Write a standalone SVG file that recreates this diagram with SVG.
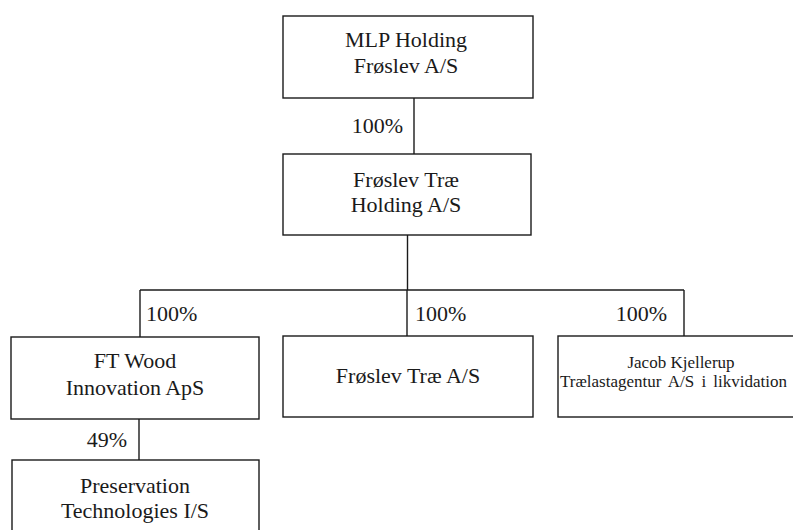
<svg xmlns="http://www.w3.org/2000/svg" width="793" height="530" viewBox="0 0 793 530">
<style>
.box{fill:#fff;stroke:#1a1a1a;stroke-width:1.4}
.ln{stroke:#1a1a1a;stroke-width:1.4;fill:none}
text{font-family:'Liberation Serif','DejaVu Serif',serif;fill:#1a1a1a}
.t{font-size:22px;text-anchor:middle}
.s{font-size:17px;text-anchor:middle}
.s2{font-size:17px;text-anchor:start;word-spacing:3px}
.p{font-size:22px}
.pe{font-size:22px;text-anchor:end}
</style>
<rect width="793" height="530" fill="#fff"/>
<g id="connectors">
<line class="ln" x1="414" y1="98" x2="414" y2="154"/>
<line class="ln" x1="407.5" y1="235" x2="407.5" y2="290"/>
<line class="ln" x1="140" y1="290" x2="684" y2="290"/>
<line class="ln" x1="140" y1="290" x2="140" y2="337"/>
<line class="ln" x1="407" y1="290" x2="407" y2="336"/>
<line class="ln" x1="684" y1="290" x2="684" y2="336"/>
<line class="ln" x1="139" y1="419" x2="139" y2="460"/>
<text class="pe" x="403" y="133">100%</text>
<text class="p" x="146" y="321">100%</text>
<text class="p" x="415" y="321">100%</text>
<text class="pe" x="667" y="321">100%</text>
<text class="pe" x="127" y="447">49%</text>
</g>
<g id="mlp-holding">
<rect class="box" x="283" y="16" width="250" height="82"/>
<text class="t" x="406" y="47">MLP Holding</text>
<text class="t" x="406" y="73">Frøslev A/S</text>
</g>
<g id="froslev-trae-holding">
<rect class="box" x="283" y="154" width="248" height="81"/>
<text class="t" x="406" y="187">Frøslev Træ</text>
<text class="t" x="406" y="212">Holding A/S</text>
</g>
<g id="ft-wood">
<rect class="box" x="11" y="337" width="248" height="82"/>
<text class="t" x="135" y="368">FT Wood</text>
<text class="t" x="135" y="395">Innovation ApS</text>
</g>
<g id="froslev-trae">
<rect class="box" x="283" y="336" width="250" height="81"/>
<text class="t" x="408" y="383">Frøslev Træ A/S</text>
</g>
<g id="jacob-kjellerup">
<rect class="box" x="558" y="336" width="252" height="81"/>
<text class="s" x="681" y="368">Jacob Kjellerup</text>
<text class="s2" x="560" y="387">Trælastagentur A/S i likvidation</text>
</g>
<g id="preservation">
<rect class="box" x="12" y="460" width="247" height="90"/>
<text class="t" x="135" y="493">Preservation</text>
<text class="t" x="135" y="518">Technologies I/S</text>
</g>
</svg>
